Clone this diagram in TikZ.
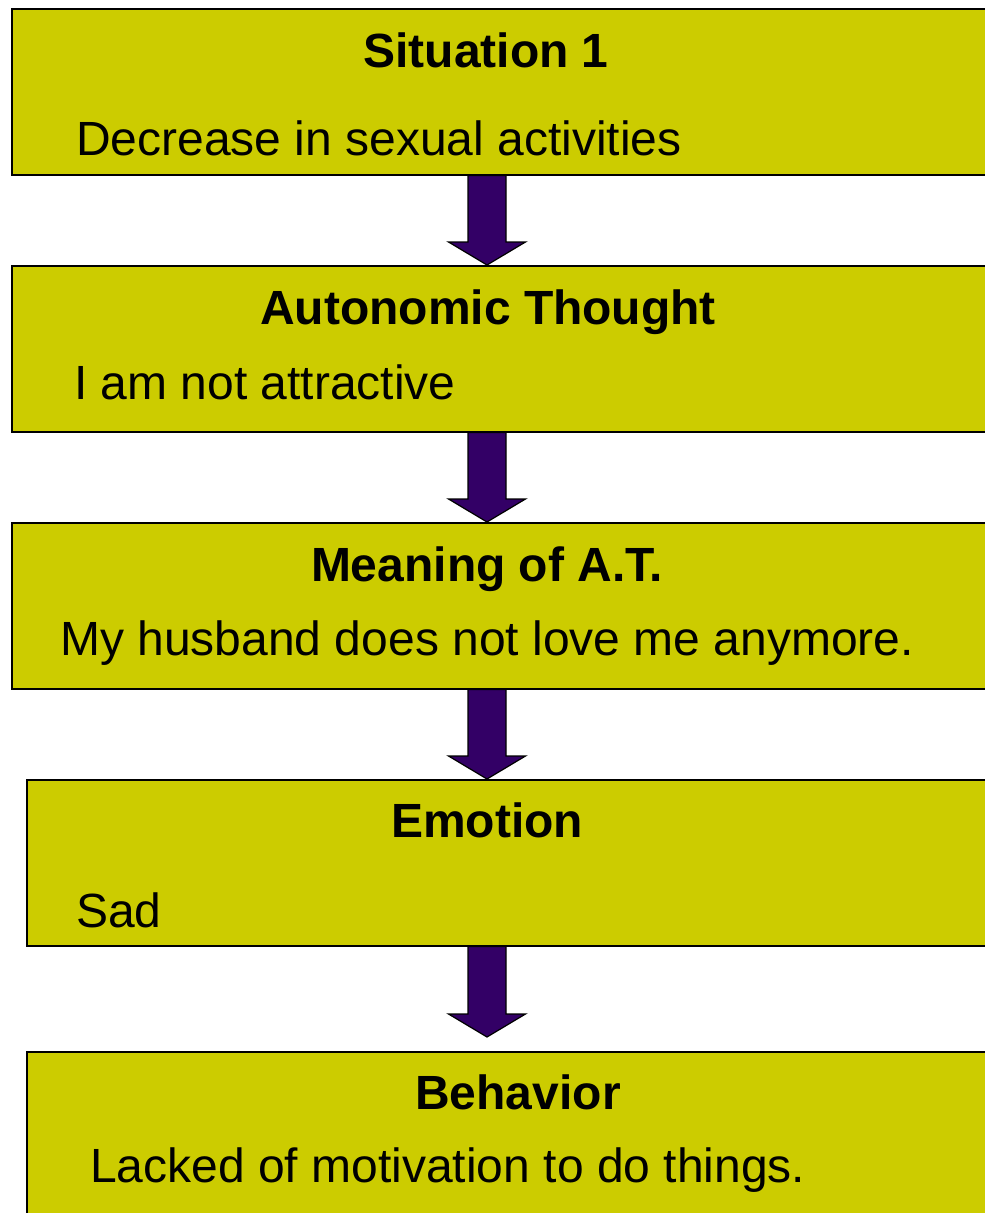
\documentclass[tikz,border=0pt]{standalone}
\usepackage{fontspec}
\setmainfont{Liberation Sans}
\usetikzlibrary{calc}
\definecolor{boxfill}{RGB}{204,204,0}
\definecolor{arrowfill}{RGB}{51,0,102}
\newcommand{\flowarrow}[2]{%
  \coordinate (t) at (#1.south -| ax);
  \coordinate (h) at (#2.north -| ax);
  \draw[blockarrow] ($(t)+(-19,0)$) -- ($(h)+(-19,23)$) -- ($(h)+(-38.5,23)$) -- (h)
    -- ($(h)+(38.5,23)$) -- ($(h)+(19,23)$) -- ($(t)+(19,0)$) -- cycle;}
\begin{document}
\begin{tikzpicture}[x=1pt,y=1pt,
  box/.style={draw=black, line width=1.5pt, fill=boxfill, rectangle, inner sep=0pt, anchor=north west, minimum height=166pt},
  blockarrow/.style={draw=black, line width=1.2pt, fill=arrowfill, line join=miter},
  ttl/.style={font=\fontsize{48}{58}\selectfont\bfseries, anchor=base, inner sep=0pt},
  txt/.style={font=\fontsize{48}{58}\selectfont, anchor=base west, inner sep=0pt}]
\useasboundingbox (0,0) rectangle (985,-1213);
\begin{scope}
\clip (0,0) rectangle (985,-1213);
\coordinate (ax) at (487,0);
\node[box, minimum width=1000pt] (b1) at (11,-8) {};
\node[box, minimum width=1000pt] (b2) at (11,-265) {};
\node[box, minimum width=1000pt] (b3) at (11,-522) {};
\node[box, minimum width=985pt] (b4) at (26,-779) {};
\node[box, minimum width=985pt, minimum height=200pt] (b5) at (26,-1051) {};
\flowarrow{b1}{b2}
\flowarrow{b2}{b3}
\flowarrow{b3}{b4}
\coordinate (b5n) at (487,-1037);
\coordinate (t) at (b4.south -| ax);
\draw[blockarrow] ($(t)+(-19,0)$) -- ($(b5n)+(-19,23)$) -- ($(b5n)+(-38.5,23)$) -- (b5n)
    -- ($(b5n)+(38.5,23)$) -- ($(b5n)+(19,23)$) -- ($(t)+(19,0)$) -- cycle;
\node[ttl] (t1) at (486,-67) {Situation 1};
\node[txt] (s1) at (76,-155) {Decrease in sexual activities};
\node[ttl] (t2) at (488,-324) {Autonomic Thought};
\node[txt] (s2) at (74,-399) {I am not attractive};
\node[ttl] (t3) at (487,-581) {Meaning of A.T.};
\node[txt] (s3) at (60,-655) {My husband does not love me anymore.};
\node[ttl] (t4) at (487,-837) {Emotion};
\node[txt] (s4) at (76,-927) {Sad};
\node[ttl] (t5) at (518,-1109) {Behavior};
\node[txt] (s5) at (90,-1182) {Lacked of motivation to do things.};
\end{scope}
\end{tikzpicture}
\end{document}
